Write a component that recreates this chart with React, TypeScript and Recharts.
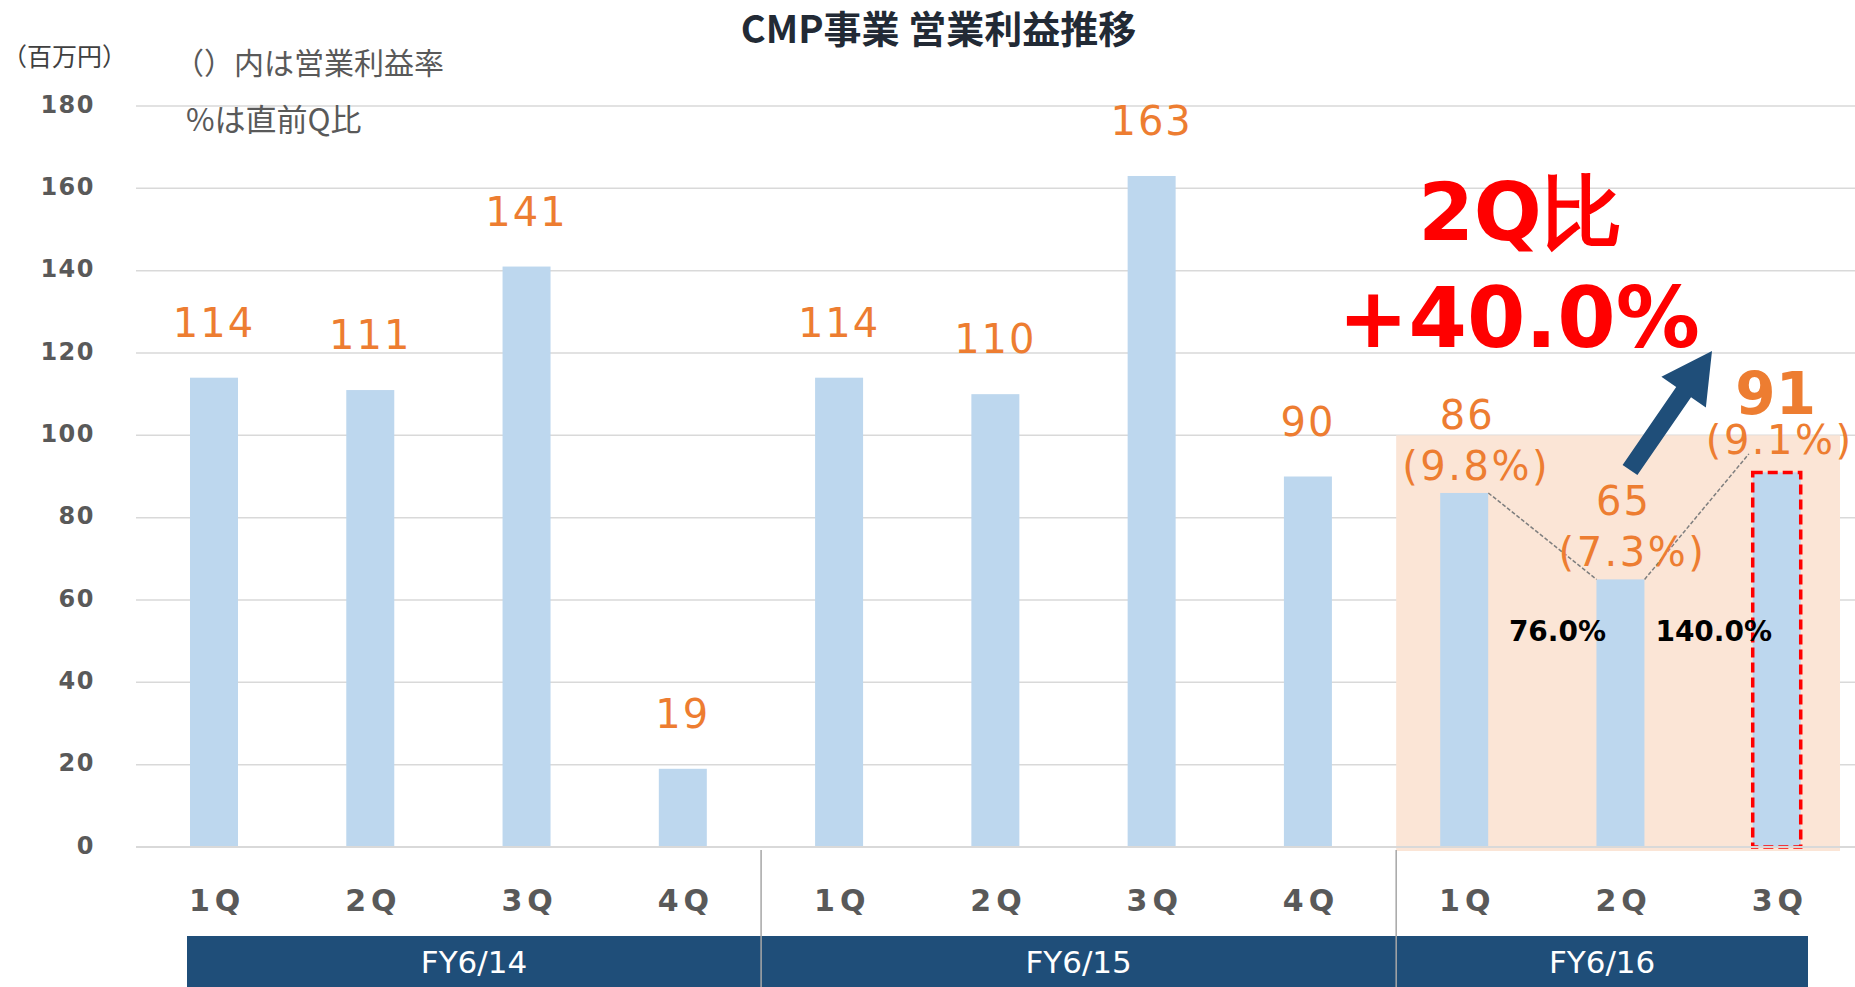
import React from 'react';
import {
  BarChart,
  Bar,
  XAxis,
  YAxis,
  CartesianGrid,
  ReferenceArea,
  ReferenceLine,
  LabelList,
} from 'recharts';

// ---- data ----
const QUARTERS = ['1Q', '2Q', '3Q', '4Q', '1Q', '2Q', '3Q', '4Q', '1Q', '2Q', '3Q'];
const FISCAL_YEARS = [
  'FY6/14', 'FY6/14', 'FY6/14', 'FY6/14',
  'FY6/15', 'FY6/15', 'FY6/15', 'FY6/15',
  'FY6/16', 'FY6/16', 'FY6/16',
];
const PROFIT = [114, 111, 141, 19, 114, 110, 163, 90, 86, 65, 91];
const MARGIN = [null, null, null, null, null, null, null, null, '(9.8%)', '(7.3%)', '(9.1%)'];
const QOQ = [null, null, null, null, null, null, null, null, null, '76.0%', '140.0%'];
const Y_TICKS = [0, 20, 40, 60, 80, 100, 120, 140, 160, 180];
const FY_GROUPS = [
  { label: 'FY6/14', first: 0, last: 3 },
  { label: 'FY6/15', first: 4, last: 7 },
  { label: 'FY6/16', first: 8, last: 10 },
];
const HIGHLIGHT_TOP = 100;
const LATEST = 10;
const QOQ_LEVEL = 50;
const CONNECTOR_END = 95.5;

const data = QUARTERS.map((q, i) => ({
  key: `${FISCAL_YEARS[i]}-${q}`,
  q,
  fy: FISCAL_YEARS[i],
  profit: PROFIT[i],
  margin: MARGIN[i],
  qoq: QOQ[i],
}));

// ---- layout ----
const W = 1855;
const H = 987;
const PLOT_LEFT = 136;
const PLOT_TOP = 106;
const X_AXIS_H = 140;
const BAND = (W - PLOT_LEFT) / data.length;
const BAR_W = 48;
// left / right insets of each fiscal-year box relative to its band edges
const GROUP_INSETS = [
  [51, 0],
  [0, 10],
  [10, -47],
];

const ORANGE = '#ED7D31';
const NAVY = '#1F4E79';
const GREY = '#595959';
const NUM_FONT = '"DejaVu Sans", Verdana, sans-serif';
const JP_FONT = '"Noto Sans CJK JP", "Noto Sans", sans-serif';

function XTick(props: any) {
  const { x, y, payload } = props;
  const i = data.findIndex((d) => d.key === payload.value);
  const d = data[i];
  const g = FY_GROUPS.findIndex((gr) => gr.first === i);
  let group: React.ReactNode = null;
  if (g >= 0) {
    const gr = FY_GROUPS[g];
    const bandStart = x - BAND / 2;
    const x0 = bandStart + GROUP_INSETS[g][0];
    const x1 = bandStart + (gr.last - gr.first + 1) * BAND + GROUP_INSETS[g][1];
    group = (
      <g>
        <rect x={x0} y={y + 81} width={x1 - x0} height={H - (y + 81)} fill={NAVY} />
        <text
          x={(x0 + x1) / 2}
          y={y + 118}
          textAnchor="middle"
          fill="#fff"
          fontSize={31}
          fontFamily={NUM_FONT}
        >
          {gr.label}
        </text>
        {g > 0 && (
          <line x1={x0} x2={x0} y1={y - 5} y2={H} stroke="#A6A6A6" strokeWidth={1.5} />
        )}
      </g>
    );
  }
  return (
    <g>
      {group}
      <text
        x={x + 3}
        y={y + 56}
        textAnchor="middle"
        fill={GREY}
        fontSize={30}
        fontWeight={700}
        letterSpacing={5}
        fontFamily={NUM_FONT}
      >
        {d ? d.q : ''}
      </text>
    </g>
  );
}

function BarShape(props: any) {
  const { x, y, width, height, index } = props;
  return (
    <g>
      <rect x={x} y={y} width={width} height={height} fill="#BDD7EE" />
      {index === LATEST && (
        <rect
          x={x}
          y={y}
          width={width}
          height={height}
          fill="none"
          stroke="#FF0000"
          strokeWidth={3.5}
          strokeDasharray="10 5"
        />
      )}
    </g>
  );
}

function ValueLabel(props: any) {
  const vb = props.viewBox ?? props;
  const { x, y, width, height } = vb;
  const i = data.findIndex((d) => d.key === props.value);
  if (i < 0) return null;
  const d = data[i];
  const cx = x + width / 2;
  const bottom = y + height;
  const unit = height / d.profit;
  const common = { fill: ORANGE, fontFamily: NUM_FONT, textAnchor: 'middle' as const };
  const parts: React.ReactNode[] = [];
  if (d.margin) {
    if (i === LATEST) {
      parts.push(
        <text key="v" x={cx - 1} y={y - 58} fontSize={58} fontWeight={700} {...common}>
          {d.profit}
        </text>
      );
      parts.push(
        <text key="m" x={cx + 3} y={y - 18} fontSize={40} letterSpacing={2.5} {...common}>
          {d.margin}
        </text>
      );
    } else {
      parts.push(
        <text key="v" x={cx + 3} y={y - 64} fontSize={40} letterSpacing={2} {...common}>
          {d.profit}
        </text>
      );
      parts.push(
        <text key="m" x={cx + 12} y={y - 13} fontSize={40} letterSpacing={2.5} {...common}>
          {d.margin}
        </text>
      );
    }
  } else {
    parts.push(
      <text key="v" x={cx} y={y - 41} fontSize={40} letterSpacing={2} {...common}>
        {d.profit}
      </text>
    );
  }
  if (d.qoq) {
    parts.push(
      <text
        key="q"
        x={cx - 63}
        y={bottom - QOQ_LEVEL * unit}
        textAnchor="middle"
        fontSize={28}
        fontWeight={700}
        fill="#000"
        fontFamily={NUM_FONT}
      >
        {d.qoq}
      </text>
    );
  }
  return <g>{parts}</g>;
}

const connector = (dx1: number, dx2: number) => (p: any) => (
  <line
    x1={p.x1 + dx1}
    y1={p.y1}
    x2={p.x2 + dx2}
    y2={p.y2}
    stroke="#7F7F7F"
    strokeWidth={1.5}
    strokeDasharray="4 2"
  />
);

// arrow annotation
const ARROW_TAIL = [1630, 470];
const ARROW_TIP = [1712, 351];
function arrowPoints() {
  const [tx, ty] = ARROW_TAIL;
  const [px, py] = ARROW_TIP;
  const len = Math.hypot(px - tx, py - ty);
  const ux = (px - tx) / len;
  const uy = (py - ty) / len;
  const nx = -uy;
  const ny = ux;
  const bx = px - 50 * ux;
  const by = py - 50 * uy;
  const pts = [
    [tx - 9 * nx, ty - 9 * ny],
    [bx - 9 * nx, by - 9 * ny],
    [bx - 27 * nx, by - 27 * ny],
    [px, py],
    [bx + 27 * nx, by + 27 * ny],
    [bx + 9 * nx, by + 9 * ny],
    [tx + 9 * nx, ty + 9 * ny],
  ];
  return pts.map((p) => p.join(',')).join(' ');
}

export default function App() {
  return (
    <div style={{ position: 'absolute', left: 0, top: 0, width: W, height: H, background: '#fff' }}>
      <BarChart
        width={W}
        height={H}
        data={data}
        margin={{ top: PLOT_TOP, right: 0, bottom: 0, left: 0 }}
        barSize={BAR_W}
      >
        <ReferenceArea
          x1={data[8].key}
          x2={data[10].key}
          y1={0}
          y2={HIGHLIGHT_TOP}
          ifOverflow="visible"
          shape={(p: any) => (
            <rect x={p.x + 10} y={p.y} width={p.width - 25} height={p.height + 4} fill="#FBE5D6" />
          )}
        />
        <CartesianGrid vertical={false} stroke="#D9D9D9" strokeWidth={1.5} />
        <XAxis
          dataKey="key"
          height={X_AXIS_H}
          interval={0}
          tickLine={false}
          axisLine={{ stroke: '#D9D9D9', strokeWidth: 2 }}
          tick={<XTick />}
        />
        <YAxis
          width={PLOT_LEFT}
          domain={[0, 180]}
          ticks={Y_TICKS}
          tickLine={false}
          axisLine={false}
          tickMargin={35}
          dy={-2}
          tick={{ fill: GREY, fontSize: 24, fontWeight: 700, fontFamily: NUM_FONT, letterSpacing: 1.5 }}
        />
        <Bar dataKey="profit" isAnimationActive={false} shape={<BarShape />}>
          <LabelList dataKey="key" content={<ValueLabel />} />
        </Bar>
        <ReferenceLine
          segment={[
            { x: data[8].key, y: PROFIT[8] },
            { x: data[9].key, y: PROFIT[9] },
          ]}
          position="middle"
          ifOverflow="visible"
          shape={connector(BAR_W / 2, -BAR_W / 2)}
        />
        <ReferenceLine
          segment={[
            { x: data[9].key, y: PROFIT[9] },
            { x: data[10].key, y: CONNECTOR_END },
          ]}
          position="middle"
          ifOverflow="visible"
          shape={connector(BAR_W / 2, -BAR_W / 2 - 4)}
        />
      </BarChart>
      <svg
        width={W}
        height={H}
        style={{ position: 'absolute', left: 0, top: 0, pointerEvents: 'none' }}
      >
        <text x={W / 2 + 11} y={43} textAnchor="middle" fontSize={38} fontWeight={700} fill="#222A35" fontFamily={JP_FONT}>
          CMP事業 営業利益推移
        </text>
        <text x={2} y={66} fontSize={25} fill="#404040" fontFamily={JP_FONT}>
          （百万円）
        </text>
        <text x={174} y={74} fontSize={30} fill={GREY} fontFamily={JP_FONT}>
          （）内は営業利益率
        </text>
        <text x={186} y={131} fontSize={31} fill={GREY} fontFamily={JP_FONT}>
          %は直前Q比
        </text>
        <text x={1520} y={240} textAnchor="middle" fontSize={80} fontWeight={700} fill="#FF0000" fontFamily={NUM_FONT}>
          2Q比
        </text>
        <text x={1519} y={347} textAnchor="middle" fontSize={84} fontWeight={700} fill="#FF0000" fontFamily={NUM_FONT}>
          +40.0%
        </text>
        <polygon points={arrowPoints()} fill={NAVY} />
      </svg>
    </div>
  );
}
